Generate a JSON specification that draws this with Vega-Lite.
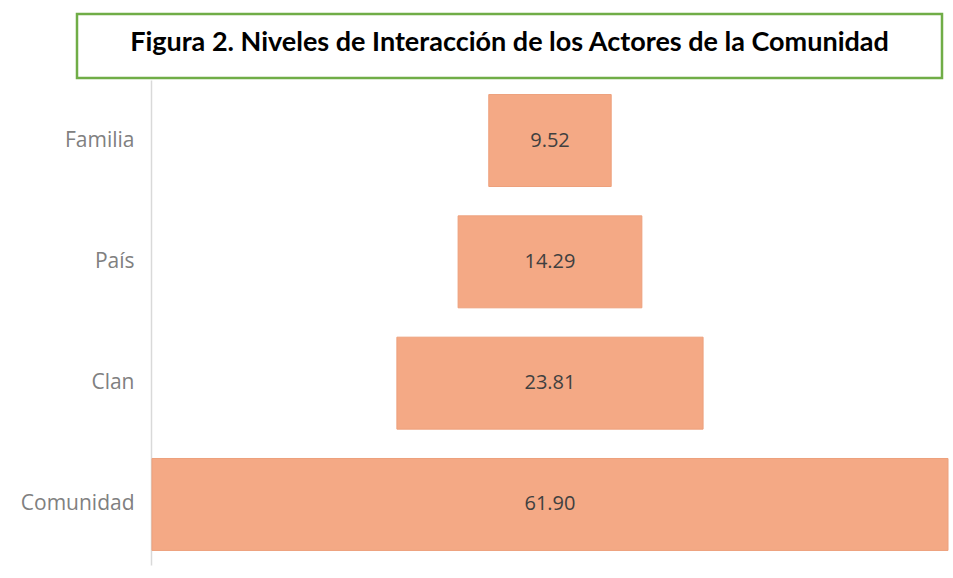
{
  "$schema": "https://vega.github.io/schema/vega-lite/v6.json",
  "background": "white",
  "padding": {"left": 20, "top": 12, "right": 4, "bottom": 5},
  "columns": 1,
  "spacing": 0,
  "config": {"view": {"stroke": null}},
  "concat": [
    {
      "width": 865,
      "height": 64,
      "view": {"stroke": "#70ad47", "strokeWidth": 2.5},
      "data": {"values": [{"titulo": "Figura 2. Niveles de Interacción de los Actores de la Comunidad"}]},
      "mark": {"type": "text", "font": "Lato", "fontWeight": "bold", "fontSize": 27, "color": "#000000", "baseline": "middle", "dy": -3},
      "encoding": {"text": {"field": "titulo", "type": "nominal"}}
    },
    {
      "width": 871,
      "height": 485,
      "data": {"values": [
        {"nivel": "Familia", "valor": 9.52},
        {"nivel": "País", "valor": 14.29},
        {"nivel": "Clan", "valor": 23.81},
        {"nivel": "Comunidad", "valor": 61.90}
      ]},
      "encoding": {
        "y": {
          "field": "nivel", "type": "nominal",
          "sort": ["Familia", "País", "Clan", "Comunidad"],
          "scale": {"paddingInner": 0.242, "paddingOuter": 0.12},
          "axis": {"title": null, "offset": -74, "domainColor": "#d9d9d9", "domainWidth": 1.5, "ticks": false, "labelFont": "Open Sans", "labelFontSize": 21, "labelColor": "#808080", "labelPadding": 17}
        }
      },
      "layer": [
        {
          "mark": {"type": "bar", "color": "#f4a985", "stroke": "#eda07c", "strokeWidth": 1},
          "encoding": {
            "x": {"field": "valor", "type": "quantitative", "stack": "center", "scale": {"domain": [-5.83, 61.9], "nice": false, "zero": false}, "axis": null}
          }
        },
        {
          "mark": {"type": "text", "font": "Open Sans", "fontSize": 20, "color": "#404040", "baseline": "middle"},
          "encoding": {
            "x": {"field": "valor", "type": "quantitative", "stack": "center", "bandPosition": 0.5},
            "text": {"field": "valor", "type": "quantitative", "format": ".2f"}
          }
        }
      ]
    }
  ]
}
